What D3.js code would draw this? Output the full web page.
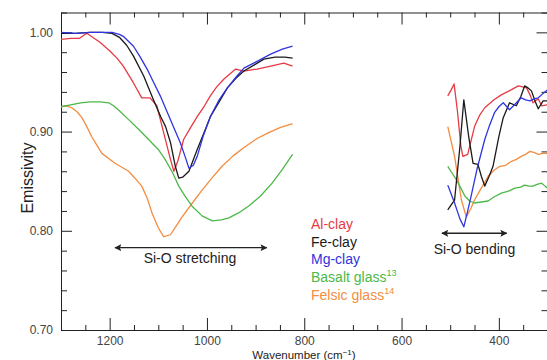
<!DOCTYPE html>
<html>
<head>
<meta charset="utf-8">
<script src="https://cdn.jsdelivr.net/npm/d3@7"></script>
<style>
  body { margin: 0; background: #fff; }
  svg { display: block; font-family: 'Liberation Sans', Arial, Helvetica, sans-serif; }
</style>
</head>
<body>
<div id="chart"></div>
<script>
// Series: [wavenumber (cm-1), emissivity], Si-O stretching region
const alClayStretch = [[1300, 0.993], [1280, 0.994], [1262, 0.994], [1247, 0.999], [1235, 0.995], [1220, 0.990], [1199, 0.981], [1185, 0.974], [1172, 0.966], [1151, 0.949], [1134, 0.934], [1117, 0.934], [1103, 0.926], [1089, 0.899], [1075, 0.872], [1068, 0.860], [1060, 0.870], [1048, 0.892], [1035, 0.903], [1020, 0.915], [1005, 0.926], [993, 0.936], [980, 0.945], [965, 0.953], [941, 0.963], [924, 0.961], [897, 0.963], [869, 0.966], [842, 0.969], [824, 0.966]]
const feClayStretch = [[1300, 0.999], [1270, 0.999], [1240, 1.0], [1215, 1.0], [1195, 0.999], [1180, 0.995], [1165, 0.987], [1151, 0.976], [1130, 0.956], [1110, 0.932], [1095, 0.915], [1085, 0.905], [1075, 0.889], [1065, 0.865], [1058, 0.853], [1050, 0.854], [1037, 0.860], [1020, 0.882], [1005, 0.900], [993, 0.915], [975, 0.930], [958, 0.944], [940, 0.954], [924, 0.961], [900, 0.968], [883, 0.973], [860, 0.975], [840, 0.975], [824, 0.974]]
const mgClayStretch = [[1300, 1.0], [1270, 0.999], [1240, 1.0], [1215, 1.0], [1195, 1.0], [1180, 0.998], [1172, 0.996], [1151, 0.986], [1137, 0.975], [1123, 0.963], [1110, 0.950], [1096, 0.936], [1075, 0.912], [1055, 0.889], [1045, 0.875], [1037, 0.863], [1028, 0.866], [1020, 0.875], [1008, 0.895], [993, 0.915], [975, 0.932], [958, 0.944], [940, 0.955], [924, 0.964], [900, 0.970], [869, 0.978], [845, 0.983], [824, 0.986]]
const basaltStretch = [[1300, 0.925], [1280, 0.927], [1260, 0.929], [1240, 0.930], [1220, 0.930], [1202, 0.929], [1192, 0.926], [1180, 0.921], [1161, 0.912], [1140, 0.902], [1120, 0.892], [1100, 0.882], [1086, 0.872], [1070, 0.858], [1058, 0.845], [1045, 0.835], [1031, 0.825], [1010, 0.815], [989, 0.810], [970, 0.811], [955, 0.813], [935, 0.818], [914, 0.825], [890, 0.835], [866, 0.848], [845, 0.862], [824, 0.877]]
const felsicStretch = [[1300, 0.925], [1290, 0.926], [1278, 0.924], [1267, 0.920], [1257, 0.914], [1247, 0.905], [1237, 0.895], [1226, 0.886], [1216, 0.878], [1200, 0.872], [1189, 0.868], [1175, 0.864], [1161, 0.860], [1148, 0.853], [1134, 0.845], [1123, 0.833], [1113, 0.818], [1100, 0.803], [1089, 0.794], [1075, 0.796], [1063, 0.805], [1051, 0.814], [1030, 0.828], [1010, 0.841], [990, 0.853], [969, 0.865], [945, 0.876], [921, 0.885], [897, 0.893], [873, 0.899], [850, 0.904], [824, 0.908]]

// Si-O bending region
const alClayBend = [[505, 0.936], [498, 0.942], [492, 0.948], [485, 0.920], [478, 0.885], [474, 0.875], [464, 0.877], [450, 0.905], [440, 0.916], [429, 0.924], [410, 0.932], [395, 0.937], [375, 0.942], [360, 0.946], [343, 0.944], [335, 0.936], [330, 0.929], [319, 0.933], [312, 0.926], [300, 0.927]]
const feClayBend = [[505, 0.821], [498, 0.826], [491, 0.831], [480, 0.885], [472, 0.932], [462, 0.895], [453, 0.868], [443, 0.867], [436, 0.855], [429, 0.845], [420, 0.855], [412, 0.865], [400, 0.895], [391, 0.914], [378, 0.929], [364, 0.926], [355, 0.935], [347, 0.946], [340, 0.944], [333, 0.941], [325, 0.930], [319, 0.923], [309, 0.931], [300, 0.931]]
const mgClayBend = [[505, 0.846], [498, 0.837], [491, 0.828], [480, 0.812], [472, 0.804], [465, 0.818], [457, 0.835], [445, 0.862], [429, 0.892], [420, 0.905], [409, 0.919], [400, 0.925], [391, 0.929], [378, 0.922], [366, 0.928], [354, 0.934], [345, 0.932], [336, 0.931], [328, 0.933], [319, 0.934], [310, 0.938], [300, 0.942]]
const basaltBend = [[505, 0.865], [496, 0.858], [488, 0.852], [478, 0.843], [470, 0.835], [460, 0.830], [450, 0.828], [436, 0.829], [422, 0.830], [410, 0.834], [395, 0.838], [380, 0.840], [367, 0.843], [355, 0.844], [347, 0.846], [338, 0.845], [330, 0.845], [320, 0.847], [312, 0.848], [305, 0.845], [300, 0.843]]
const felsicBend = [[505, 0.905], [498, 0.890], [491, 0.875], [484, 0.853], [477, 0.831], [467, 0.814], [458, 0.822], [450, 0.831], [435, 0.844], [422, 0.855], [410, 0.861], [398, 0.865], [386, 0.866], [374, 0.870], [364, 0.872], [354, 0.875], [345, 0.877], [336, 0.880], [328, 0.879], [319, 0.877], [310, 0.878], [300, 0.878]]

const seriesNames = ['Al-clay', 'Fe-clay', 'Mg-clay', 'Basalt glass', 'Felsic glass']
const seriesRefs = ['', '', '', '13', '14']
const seriesColors = ['#e63a44', '#1a1a1a', '#3034e0', '#4cb848', '#f28d42']

const xMajorTicks = [1200, 1000, 800, 600, 400]
const yMajorTicks = [0.70, 0.80, 0.90, 1.00]

const width = 547
const height = 360

const svg = d3.select('#chart')
  .append('svg')
  .attr('width', width)
  .attr('height', height)

const x = d3.scaleLinear().domain([1300, 300]).range([61, 547.5])
const y = d3.scaleLinear().domain([0.70, 1.02]).range([330, 12.5])

const xMinor = d3.range(1300, 299, -50).filter(d => !xMajorTicks.includes(d))
const yMinor = d3.range(0, 17).map(i => +(0.70 + i * 0.02).toFixed(2)).filter(d => !yMajorTicks.includes(d))

// Bottom axis (ticks point inward)
svg.append('g')
  .attr('transform', `translate(0,${y(0.70)})`)
  .call(d3.axisBottom(x).tickValues(xMajorTicks).tickSizeInner(-12).tickSizeOuter(0).tickPadding(6).tickFormat(d3.format('d')))
  .call(g => g.selectAll('.tick text').attr('font-size', 12).attr('fill', '#444').attr('font-family', null))
  .call(g => g.select('.domain').attr('stroke', '#222'))
svg.append('g')
  .attr('transform', `translate(0,${y(0.70)})`)
  .call(d3.axisBottom(x).tickValues(xMinor).tickSizeInner(-5).tickSizeOuter(0).tickFormat(''))
  .call(g => g.select('.domain').remove())

// Top axis
svg.append('g')
  .attr('transform', `translate(0,${y(1.02)})`)
  .call(d3.axisTop(x).tickValues(xMajorTicks).tickSizeInner(-12).tickSizeOuter(0).tickFormat(''))
  .call(g => g.select('.domain').attr('stroke', '#222'))
svg.append('g')
  .attr('transform', `translate(0,${y(1.02)})`)
  .call(d3.axisTop(x).tickValues(xMinor).tickSizeInner(-5).tickSizeOuter(0).tickFormat(''))
  .call(g => g.select('.domain').remove())

// Left axis
svg.append('g')
  .attr('transform', `translate(${x(1300)},0)`)
  .call(d3.axisLeft(y).tickValues(yMajorTicks).tickSizeInner(-11).tickSizeOuter(0).tickPadding(8).tickFormat(d3.format('.2f')))
  .call(g => g.selectAll('.tick text').attr('font-size', 12).attr('fill', '#444').attr('font-family', null))
  .call(g => g.select('.domain').attr('stroke', '#222'))
svg.append('g')
  .attr('transform', `translate(${x(1300)},0)`)
  .call(d3.axisLeft(y).tickValues(yMinor).tickSizeInner(-6).tickSizeOuter(0).tickFormat(''))
  .call(g => g.select('.domain').remove())

// Right axis
svg.append('g')
  .attr('transform', `translate(${x(300)},0)`)
  .call(d3.axisRight(y).tickValues(yMajorTicks).tickSizeInner(-11).tickSizeOuter(0).tickFormat(''))
svg.append('g')
  .attr('transform', `translate(${x(300)},0)`)
  .call(d3.axisRight(y).tickValues(yMinor).tickSizeInner(-6).tickSizeOuter(0).tickFormat(''))
  .call(g => g.select('.domain').remove())

svg.selectAll('.tick line').attr('stroke', '#222')

// Axis titles
svg.append('text')
  .attr('transform', 'rotate(-90)')
  .attr('x', -178)
  .attr('y', 33)
  .attr('text-anchor', 'middle')
  .attr('font-size', 16)
  .attr('fill', '#222')
  .text('Emissivity')

const xTitle = svg.append('text')
  .attr('x', 304)
  .attr('y', 358.5)
  .attr('text-anchor', 'middle')
  .attr('font-size', 11.5)
  .attr('fill', '#222')
xTitle.append('tspan').text('Wavenumber (cm')
xTitle.append('tspan').attr('font-size', 8).attr('dy', -4).text('\u22121')
xTitle.append('tspan').attr('dy', 4).text(')')

// Spectra
const line = d3.line()
  .x(d => x(d[0]))
  .y(d => y(d[1]))

const stretchSets = [alClayStretch, feClayStretch, mgClayStretch, basaltStretch, felsicStretch]
const bendSets = [alClayBend, feClayBend, mgClayBend, basaltBend, felsicBend]

// draw glasses first so the clays sit on top
const order = [4, 3, 0, 1, 2]
order.forEach(i => {
  [stretchSets[i], bendSets[i]].forEach(seg => {
    svg.append('path')
      .datum(seg)
      .attr('fill', 'none')
      .attr('stroke', seriesColors[i])
      .attr('stroke-width', 1.3)
      .attr('stroke-linejoin', 'round')
      .attr('d', line)
  })
})

// Arrows
const defs = svg.append('defs')
defs.append('marker')
  .attr('id', 'head')
  .attr('viewBox', '0 0 10 10')
  .attr('refX', 9)
  .attr('refY', 5)
  .attr('markerWidth', 7)
  .attr('markerHeight', 7)
  .attr('markerUnits', 'userSpaceOnUse')
  .attr('orient', 'auto-start-reverse')
  .append('path')
  .attr('d', 'M0,0 L10,5 L0,10 L2,5 Z')
  .attr('fill', '#222')

const annotations = [
  { from: 1189, to: 877, e: 0.783, label: 'Si-O stretching', lx: 1035, le: 0.7675 },
  { from: 517, to: 384, e: 0.7975, label: 'Si-O bending', lx: 450, le: 0.777 }
]
annotations.forEach(a => {
  svg.append('line')
    .attr('x1', x(a.from))
    .attr('x2', x(a.to))
    .attr('y1', y(a.e))
    .attr('y2', y(a.e))
    .attr('stroke', '#222')
    .attr('stroke-width', 1.3)
    .attr('marker-start', 'url(#head)')
    .attr('marker-end', 'url(#head)')
  svg.append('text')
    .attr('x', x(a.lx))
    .attr('y', y(a.le))
    .attr('text-anchor', 'middle')
    .attr('font-size', 14)
    .attr('fill', '#222')
    .text(a.label)
})

// Legend
const legend = svg.append('g').attr('transform', 'translate(311,229)')
seriesNames.forEach((name, i) => {
  const t = legend.append('text')
    .attr('x', 0)
    .attr('y', i * 17.7)
    .attr('font-size', 14)
    .attr('fill', seriesColors[i])
  t.append('tspan').text(name)
  if (seriesRefs[i]) {
    t.append('tspan').attr('font-size', 9).attr('dy', -6).text(seriesRefs[i])
  }
})
</script>
</body>
</html>
